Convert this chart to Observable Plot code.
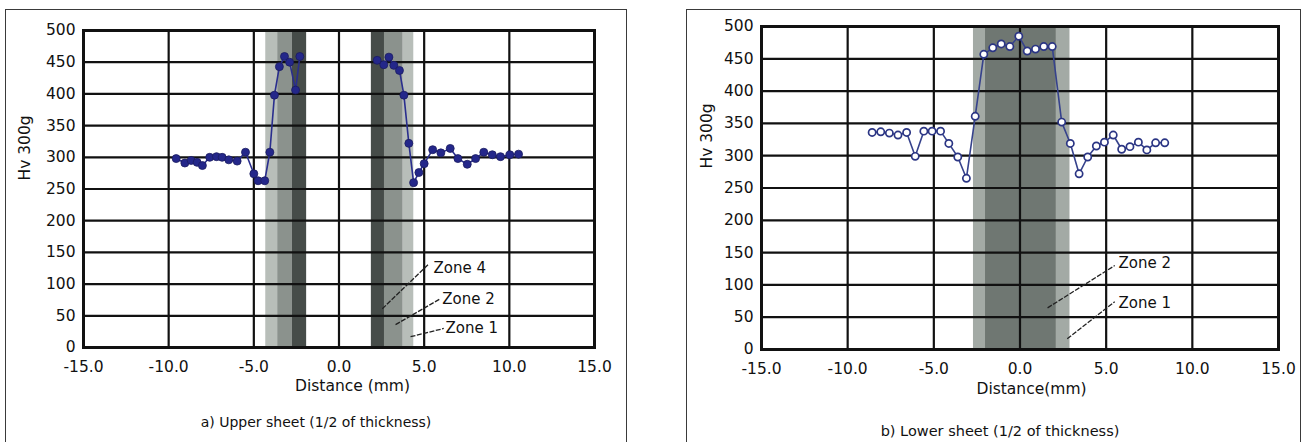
<!DOCTYPE html>
<html><head><meta charset="utf-8">
<script src="https://cdn.jsdelivr.net/npm/d3@7"></script>
<script src="https://cdn.jsdelivr.net/npm/@observablehq/plot@0.6"></script>
<style>
html,body{margin:0;padding:0;background:#fff;overflow:hidden;width:1307px;height:442px;}
.frame{position:absolute;border:1.5px solid #3a3a3a;box-sizing:border-box;}
.panel{position:absolute;top:0;}
.cap{position:absolute;font-family:"DejaVu Sans";color:#111;white-space:nowrap;transform:translateX(-50%);line-height:1;}
</style></head><body>
<div class="frame" style="left:5px;top:9px;width:622px;height:460px"></div>
<div class="frame" style="left:686px;top:9px;width:615px;height:460px"></div>
<div id="a" class="panel" style="left:0px"></div>
<div id="b" class="panel" style="left:680px"></div>
<div class="cap" id="capA" style="left:316px;top:415px;font-size:14px"></div>
<div class="cap" id="capB" style="left:1000px;top:424px;font-size:14.5px"></div>
<script>
// ---- shared ----
const xTicks = [-15, -10, -5, 0, 5, 10, 15];
const yTicks = [0, 50, 100, 150, 200, 250, 300, 350, 400, 450, 500];
const zoneNames = ["Zone 1", "Zone 2", "Zone 4"];
const xLabels = ["Distance (mm)", "Distance(mm)"];
const yLabel = "Hv 300g";
const captions = ["a) Upper sheet (1/2 of thickness)", "b) Lower sheet (1/2 of thickness)"];

// ---- a) upper sheet ----
const upperLeftX = [-9.56, -9.05, -8.68, -8.33, -8.02, -7.59, -7.19, -6.86, -6.47, -5.98, -5.49, -5.0, -4.75, -4.36, -4.06, -3.79, -3.5, -3.2, -2.9, -2.55, -2.3];
const upperLeftHv = [298, 291, 295, 292, 287, 300, 301, 300, 296, 294, 308, 274, 263, 263, 308, 398, 443, 459, 450, 406, 459];
const upperRightX = [2.24, 2.63, 2.93, 3.22, 3.55, 3.81, 4.10, 4.38, 4.69, 5.0, 5.5, 5.98, 6.53, 6.98, 7.53, 8.02, 8.5, 9.0, 9.48, 10.03, 10.54];
const upperRightHv = [453, 446, 458, 445, 437, 398, 322, 260, 276, 290, 312, 307, 314, 298, 289, 298, 308, 304, 301, 304, 305];
const upperBandZone = ["Zone 1", "Zone 2", "Zone 4", "Zone 4", "Zone 2", "Zone 1"];
const upperBandX1 = [-4.3, -3.6, -2.75, 1.9, 2.67, 3.77];
const upperBandX2 = [-3.6, -2.75, -1.9, 2.67, 3.77, 4.39];
const upperZoneText = ["Zone 4", "Zone 2", "Zone 1"];
const upperZoneTextX = [5.55, 6.06, 6.25];
const upperZoneTextY = [125, 76, 30];
const upperLeaderX1 = [2.54, 3.32, 4.2];
const upperLeaderY1 = [61, 36, 17];
const upperLeaderX2 = [5.28, 5.96, 6.15];
const upperLeaderY2 = [132, 77, 30];

// ---- b) lower sheet ----
const lowerX = [-8.58, -8.08, -7.58, -7.08, -6.58, -6.08, -5.58, -5.10, -4.61, -4.13, -3.61, -3.11, -2.60, -2.10, -1.58, -1.09, -0.59, -0.07, 0.42, 0.90, 1.38, 1.87, 2.42, 2.92, 3.43, 3.93, 4.43, 4.90, 5.41, 5.90, 6.38, 6.87, 7.36, 7.87, 8.40];
const lowerHv = [336, 337, 335, 332, 336, 299, 338, 338, 338, 319, 298, 265, 361, 457, 467, 473, 469, 485, 462, 465, 469, 469, 352, 319, 272, 298, 315, 321, 332, 310, 314, 321, 309, 320, 320];
const lowerBandZone = ["Zone 1", "Zone 2"];
const lowerBandX1 = [-2.7, -2.0];
const lowerBandX2 = [2.9, 2.1];
const lowerZoneText = ["Zone 2", "Zone 1"];
const lowerZoneTextX = [5.72, 5.72];
const lowerZoneTextY = [133, 71];
const lowerLeaderX1 = [1.60, 2.74];
const lowerLeaderY1 = [64.5, 16.5];
const lowerLeaderX2 = [5.5, 5.5];
const lowerLeaderY2 = [130, 74];

const zip = (o) => { const k = Object.keys(o); return o[k[0]].map((_, i) => Object.fromEntries(k.map(n => [n, o[n][i]]))); };

function panel({w, h, ml, mr, mt, mb, bands, bandColors, series, filled, texts, leaders, xLabel, xdx, xdy, ydx, ydy}) {
  const dotColor = filled ? "#24278a" : "#2b3584";
  const lineColor = filled ? "#2a2e8e" : "#36428c";
  const marks = [
    Plot.rect(bands, {x1: "x1", x2: "x2", y1: 0, y2: 500, fill: "zone"}),
    Plot.ruleX(xTicks, {stroke: "#111", strokeWidth: 2.2}),
    Plot.ruleY(yTicks, {stroke: "#111", strokeWidth: 2.2}),
    Plot.frame({stroke: "#111", strokeWidth: 3}),
    Plot.axisX({ticks: xTicks, tickSize: 0, tickPadding: 13, tickFormat: d => d.toFixed(1), label: null, fontSize: 15.5}),
    Plot.axisY({ticks: yTicks, tickSize: 0, tickPadding: 8, label: null, fontSize: 15.5})
  ];
  for (const s of series) {
    marks.push(Plot.line(s, {x: "x", y: "hv", stroke: lineColor, strokeWidth: 1.6}));
    marks.push(Plot.dot(s, filled
      ? {x: "x", y: "hv", r: 4, fill: dotColor, stroke: "#1a1c60", strokeWidth: 0.8}
      : {x: "x", y: "hv", r: 3.6, fill: "white", stroke: dotColor, strokeWidth: 1.7}));
  }
  marks.push(Plot.link(leaders, {x1: "x1", y1: "y1", x2: "x2", y2: "y2", stroke: "#222", strokeWidth: 1.3, strokeDasharray: "5,1.5"}));
  marks.push(Plot.text(texts, {x: "x", y: "y", text: "t", textAnchor: "start", fontSize: 15, fill: "#111"}));
  marks.push(Plot.text([xLabel], {frameAnchor: "bottom", dx: xdx, dy: xdy, fontSize: 15.5, fill: "#111"}));
  marks.push(Plot.text([yLabel], {frameAnchor: "left", rotate: -90, dx: ydx, dy: ydy, fontSize: 15.5, fill: "#111"}));
  return Plot.plot({
    width: w, height: h, marginLeft: ml, marginRight: mr, marginTop: mt, marginBottom: mb,
    x: {domain: [-15, 15]},
    y: {domain: [0, 500]},
    color: {domain: zoneNames, range: bandColors},
    style: {fontFamily: "DejaVu Sans", fontSize: "15.5px", color: "#111", background: "transparent", overflow: "visible"},
    marks
  });
}

const upperBands = zip({zone: upperBandZone, x1: upperBandX1, x2: upperBandX2});
const lowerBands = zip({zone: lowerBandZone, x1: lowerBandX1, x2: lowerBandX2});

document.getElementById("a").append(panel({
  w: 640, h: 400, ml: 83, mr: 46, mt: 30, mb: 53,
  bands: upperBands, bandColors: ["#b8beb9", "#8b928d", "#464c49"],
  series: [zip({x: upperLeftX, hv: upperLeftHv}), zip({x: upperRightX, hv: upperRightHv})],
  filled: true,
  texts: zip({t: upperZoneText, x: upperZoneTextX, y: upperZoneTextY}),
  leaders: zip({x1: upperLeaderX1, y1: upperLeaderY1, x2: upperLeaderX2, y2: upperLeaderY2}),
  xLabel: xLabels[0], xdx: 13.5, xdy: 43, ydx: -58, ydy: -8.5
}));

document.getElementById("b").append(panel({
  w: 620, h: 400, ml: 81, mr: 22, mt: 26, mb: 51,
  bands: lowerBands, bandColors: ["#a3aaa5", "#6f7772", "#464c49"],
  series: [zip({x: lowerX, hv: lowerHv})],
  filled: false,
  texts: zip({t: lowerZoneText, x: lowerZoneTextX, y: lowerZoneTextY}),
  leaders: zip({x1: lowerLeaderX1, y1: lowerLeaderY1, x2: lowerLeaderX2, y2: lowerLeaderY2}),
  xLabel: xLabels[1], xdx: 11.5, xdy: 44, ydx: -54, ydy: -19.5
}));

document.getElementById("capA").textContent = captions[0];
document.getElementById("capB").textContent = captions[1];
</script>
</body></html>
